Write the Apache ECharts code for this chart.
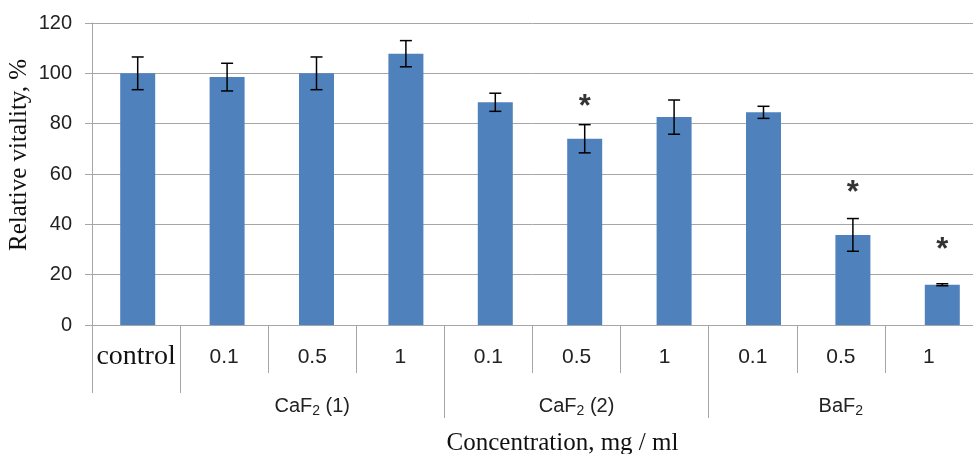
<!DOCTYPE html>
<html>
<head>
<meta charset="utf-8">
<script src="https://cdn.jsdelivr.net/npm/echarts@6/dist/echarts.min.js"></script>
<style>
  html, body { margin: 0; padding: 0; background: #fff; }
  #chart { width: 973px; height: 454px; }
</style>
</head>
<body>
<div id="chart"></div>
<script>
// concentrations along the axis, one per bar
const categories = ['control', '0.1', '0.5', '1', '0.1', '0.5', '1', '0.1', '0.5', '1'];
// second level: group name, placed under the middle bar of each group
const groupLabels = ['', '', 'CaF2 (1)', '', '', 'CaF2 (2)', '', '', 'BaF2', ''];
// index of the first bar in each group (boundary lines)
const groupStarts = [0, 1, 4, 7];

const values = [100, 98.5, 100, 107.8, 88.5, 74, 82.6, 84.5, 35.8, 16];
const errors = [6.5, 5.5, 6.5, 5.2, 3.6, 5.6, 6.8, 2.4, 6.5, 0.4];
// height of the significance asterisk (null = none)
const stars = [null, null, null, null, null, 88.8, null, null, 54.8, 32.2];

const yTicks = [0, 20, 40, 60, 80, 100, 120];

const gray = '#a6a6a6';
const sans = 'Liberation Sans';
const serif = 'Liberation Serif';

const chart = echarts.init(document.getElementById('chart'));

const errData = values.map((v, i) => [i, v - errors[i], v + errors[i]]);
const starData = [];
stars.forEach((s, i) => { if (s != null) starData.push([i, s]); });

function groupFmt(v) {
    if (!v) return '';
    // F2 -> F with subscript 2
    return v.replace(/^(.*F)2(.*)$/, '{t|$1}{s|2}{t|$2}');
}

const yRange = { min: yTicks[0], max: yTicks[yTicks.length - 1], interval: 20 };

chart.setOption({
    animation: false,
    grid: [
        { left: 92, right: 0, top: 23, bottom: 129, outerBoundsMode: 'none', containLabel: false },
        // the bars in the original sit slightly wider apart than the axis cells
        { left: 93, right: -14, top: 23, bottom: 129, outerBoundsMode: 'none', containLabel: false }
    ],
    xAxis: [
        {
            type: 'category',
            gridIndex: 0,
            data: categories,
            position: 'bottom',
            axisLine: { show: true, lineStyle: { color: gray, width: 1 } },
            axisTick: { show: true, length: 48, interval: 0, lineStyle: { color: gray } },
            axisLabel: {
                interval: 0,
                margin: 18,
                formatter: v => v === 'control' ? '{c|' + v + '}' : '{n|' + v + '}',
                rich: {
                    c: { fontFamily: serif, fontSize: 28, color: '#111', lineHeight: 28 },
                    n: { fontFamily: sans, fontSize: 21, color: '#222', lineHeight: 28 }
                }
            },
            splitLine: { show: false }
        },
        {
            type: 'category',
            gridIndex: 0,
            data: groupLabels,
            position: 'bottom',
            offset: 48,
            axisLine: { show: false },
            axisTick: {
                show: true, length: 20,
                interval: (i) => groupStarts.indexOf(i) >= 0,
                lineStyle: { color: gray }
            },
            axisLabel: {
                interval: 0,
                margin: 22,
                formatter: groupFmt,
                rich: {
                    t: { fontFamily: sans, fontSize: 20, color: '#222', lineHeight: 22 },
                    s: { fontFamily: sans, fontSize: 14, color: '#222', padding: [9, 0, 0, 0] }
                }
            }
        },
        {
            type: 'category',
            gridIndex: 0,
            data: categories,
            position: 'bottom',
            offset: 68,
            axisLine: { show: false },
            axisTick: {
                show: true, length: 25,
                interval: (i) => i === 4 || i === 7,
                lineStyle: { color: gray }
            },
            axisLabel: { show: false },
            name: 'Concentration, mg / ml',
            nameLocation: 'middle',
            nameGap: 38,
            nameMoveOverlap: false,
            nameTextStyle: { fontFamily: serif, fontSize: 25, color: '#111', padding: [0, 0, 0, 60] }
        },
        {
            type: 'category',
            gridIndex: 1,
            data: categories,
            show: false
        }
    ],
    yAxis: [
        Object.assign({
            type: 'value',
            gridIndex: 0,
            axisLine: { show: true, lineStyle: { color: gray } },
            axisTick: { show: true, length: 7, lineStyle: { color: gray } },
            axisLabel: { fontFamily: sans, fontSize: 20, color: '#222', margin: 20 },
            splitLine: { show: true, lineStyle: { color: gray, width: 1 } },
            name: 'Relative vitality, %',
            nameLocation: 'middle',
            nameGap: 60,
            nameMoveOverlap: false,
            nameRotate: 90,
            nameTextStyle: { fontFamily: serif, fontSize: 25, color: '#111', padding: [0, 0, 0, 38] }
        }, yRange),
        Object.assign({ type: 'value', gridIndex: 1, show: false, splitLine: { show: false } }, yRange)
    ],
    series: [
        {
            type: 'bar',
            xAxisIndex: 3,
            yAxisIndex: 1,
            data: values,
            barWidth: 35,
            itemStyle: { color: '#4f81bd' },
            z: 2
        },
        {
            type: 'custom',
            xAxisIndex: 3,
            yAxisIndex: 1,
            data: errData,
            encode: { x: 0, y: [1, 2] },
            z: 3,
            renderItem: (params, api) => {
                const x = api.value(0);
                const lo = api.coord([x, api.value(1)]);
                const hi = api.coord([x, api.value(2)]);
                const h = 6;
                const st = { stroke: '#000', lineWidth: 1.5 };
                return {
                    type: 'group',
                    children: [
                        { type: 'line', shape: { x1: lo[0], y1: lo[1], x2: hi[0], y2: hi[1] }, style: st },
                        { type: 'line', shape: { x1: hi[0] - h, y1: hi[1], x2: hi[0] + h, y2: hi[1] }, style: st },
                        { type: 'line', shape: { x1: lo[0] - h, y1: lo[1], x2: lo[0] + h, y2: lo[1] }, style: st }
                    ]
                };
            }
        },
        {
            type: 'scatter',
            xAxisIndex: 3,
            yAxisIndex: 1,
            data: starData,
            symbolSize: 0,
            z: 4,
            label: {
                show: true,
                position: 'inside',
                formatter: '*',
                fontFamily: sans,
                fontWeight: 'bold',
                fontSize: 31,
                color: '#000',
                offset: [0, 6]
            }
        }
    ]
});
</script>
</body>
</html>
